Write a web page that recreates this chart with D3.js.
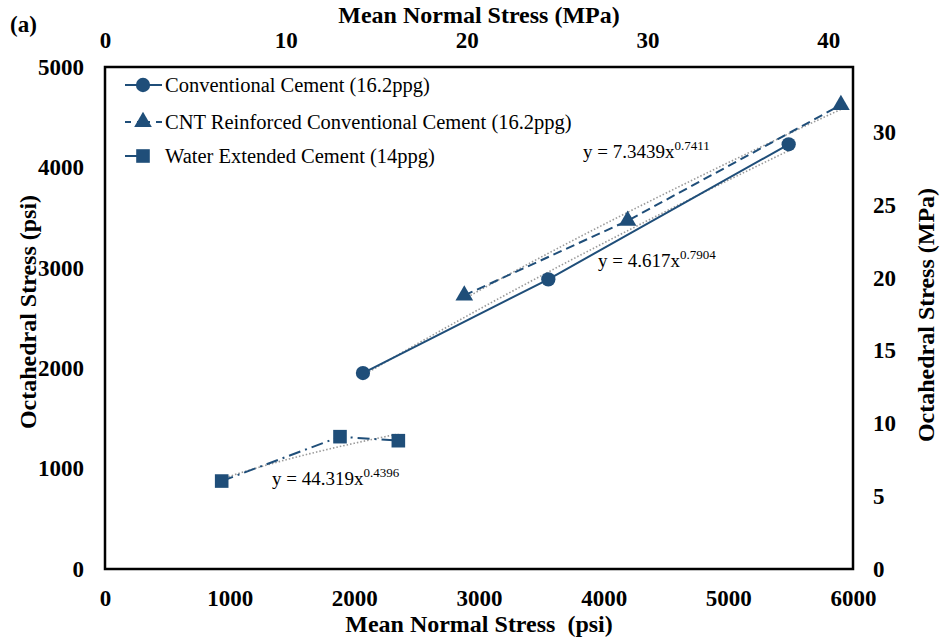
<!DOCTYPE html>
<html>
<head>
<meta charset="utf-8">
<script src="https://cdn.jsdelivr.net/npm/d3@7"></script>
<style>
  body { margin: 0; background: #fff; }
  text { font-family: "Liberation Serif", "Times New Roman", serif; }
</style>
</head>
<body>
<div id="chart"></div>
<script>
var W = 942, H = 641;
var margin = {left: 105, right: 89, top: 67, bottom: 72};

// data (psi)
var seriesNames = ["Conventional Cement (16.2ppg)", "CNT Reinforced Conventional Cement (16.2ppg)", "Water Extended Cement (14ppg)"];
var convX = [2069, 3556, 5484];
var convY = [1952, 2885, 4230];
var cntX = [2882, 4192, 5903];
var cntY = [2725, 3469, 4622];
var waterX = [936, 1885, 2353];
var waterY = [876, 1318, 1278];

// power trendlines y = a*x^b as printed on the chart
var fitA = [4.617, 7.3439, 44.319];
var fitB = [0.7904, 0.7411, 0.4396];
var fitLabels = ["y = 4.617x", "y = 7.3439x", "y = 44.319x"];
var fitExp = ["0.7904", "0.7411", "0.4396"];

var psiTicksX = [0, 1000, 2000, 3000, 4000, 5000, 6000];
var psiTicksY = [0, 1000, 2000, 3000, 4000, 5000];
var mpaTicksX = [0, 10, 20, 30, 40];
var mpaTicksY = [0, 5, 10, 15, 20, 25, 30];
var PSI_PER_MPA = 145.038;

var blue = "#1f4e79";

var svg = d3.select("#chart").append("svg")
  .attr("width", W)
  .attr("height", H);

var x = d3.scaleLinear().domain([0, 6000]).range([margin.left, W - margin.right]);
var y = d3.scaleLinear().domain([0, 5000]).range([H - margin.bottom, margin.top]);
var xM = d3.scaleLinear().domain([0, 6000 / PSI_PER_MPA]).range(x.range());
var yM = d3.scaleLinear().domain([0, 5000 / PSI_PER_MPA]).range(y.range());

function styleAxis(g) {
  g.select(".domain").remove();
  g.selectAll("line").remove();
  g.selectAll("text")
    .style("font-family", "'Liberation Serif', serif")
    .style("font-weight", "bold")
    .style("font-size", "23px")
    .attr("fill", "#000");
}

svg.append("g")
  .attr("transform", "translate(0," + (H - margin.bottom) + ")")
  .call(d3.axisBottom(x).tickValues(psiTicksX).tickSize(0).tickPadding(21).tickFormat(d3.format("d")))
  .call(styleAxis);

svg.append("g")
  .attr("transform", "translate(0," + margin.top + ")")
  .call(d3.axisTop(xM).tickValues(mpaTicksX).tickSize(0).tickPadding(19).tickFormat(d3.format("d")))
  .call(styleAxis);

svg.append("g")
  .attr("transform", "translate(" + margin.left + ",0)")
  .call(d3.axisLeft(y).tickValues(psiTicksY).tickSize(0).tickPadding(21).tickFormat(d3.format("d")))
  .call(styleAxis);

svg.append("g")
  .attr("transform", "translate(" + (W - margin.right) + ",0)")
  .call(d3.axisRight(yM).tickValues(mpaTicksY).tickSize(0).tickPadding(20).tickFormat(d3.format("d")))
  .call(styleAxis);

// plot frame
svg.append("rect")
  .attr("x", margin.left)
  .attr("y", margin.top)
  .attr("width", W - margin.left - margin.right)
  .attr("height", H - margin.top - margin.bottom)
  .attr("fill", "none")
  .attr("stroke", "#000")
  .attr("stroke-width", 2.5);

// axis titles
function title(txt, tx, ty, rot) {
  svg.append("text")
    .attr("transform", "translate(" + tx + "," + ty + ")" + (rot ? " rotate(" + rot + ")" : ""))
    .attr("text-anchor", "middle")
    .attr("dominant-baseline", "central")
    .style("font-weight", "bold")
    .style("font-size", "24px")
    .text(txt);
}
title("Mean Normal Stress (MPa)", 479, 15);
title("Mean Normal Stress \u00a0(psi)", 479, 624);
title("Octahedral Stress (psi)", 28, 312, -90);
title("Octahedral Stress (MPa)", 926, 315, -90);

svg.append("text")
  .attr("x", 10).attr("y", 32)
  .style("font-weight", "bold")
  .style("font-size", "23px")
  .text("(a)");

var series = [
  {xs: convX, ys: convY, dash: null, marker: d3.symbolCircle, size: 160},
  {xs: cntX, ys: cntY, dash: "9,5", marker: d3.symbolTriangle, size: 135},
  {xs: waterX, ys: waterY, dash: "12,5,2,5", marker: d3.symbolSquare, size: 185}
];

var line = d3.line().x(function(d) { return x(d[0]); }).y(function(d) { return y(d[1]); });

// trendlines
series.forEach(function(s, i) {
  var lo = d3.min(s.xs), hi = d3.max(s.xs);
  var pts = d3.range(0, 41).map(function(k) {
    var xv = lo + (hi - lo) * k / 40;
    return [xv, fitA[i] * Math.pow(xv, fitB[i])];
  });
  svg.append("path")
    .attr("d", line(pts))
    .attr("fill", "none")
    .attr("stroke", "#9a9a9a")
    .attr("stroke-width", 1.6)
    .attr("stroke-dasharray", "1.5,2");
});

// series lines + markers
series.forEach(function(s) {
  var pts = s.xs.map(function(v, k) { return [v, s.ys[k]]; });
  svg.append("path")
    .attr("d", line(pts))
    .attr("fill", "none")
    .attr("stroke", blue)
    .attr("stroke-width", 2)
    .attr("stroke-dasharray", s.dash);
  svg.selectAll(null)
    .data(pts)
    .enter().append("path")
    .attr("transform", function(d) { return "translate(" + x(d[0]) + "," + y(d[1]) + ")"; })
    .attr("d", d3.symbol().type(s.marker).size(s.size))
    .attr("fill", blue);
});

// trendline equations
var eqPos = [[598, 267], [583, 158], [272, 485]];
eqPos.forEach(function(p, i) {
  var t = svg.append("text")
    .attr("x", p[0]).attr("y", p[1])
    .style("font-size", "19px");
  t.append("tspan").text(fitLabels[i]);
  t.append("tspan").attr("dy", -8).style("font-size", "13px").text(fitExp[i]);
});

// legend
var legY = [85, 122, 156];
seriesNames.forEach(function(name, i) {
  var s = series[i];
  var g = svg.append("g").attr("transform", "translate(0," + legY[i] + ")");
  g.append("line")
    .attr("x1", 125).attr("x2", 162)
    .attr("stroke", blue).attr("stroke-width", 2)
    .attr("stroke-dasharray", i === 1 ? "6,6,13,6" : (i === 2 ? "14,8,2,20" : null));
  g.append("path")
    .attr("transform", "translate(143,0)")
    .attr("d", d3.symbol().type(s.marker).size(s.size))
    .attr("fill", blue);
  g.append("text")
    .attr("x", 165).attr("y", 0)
    .attr("dominant-baseline", "central")
    .style("font-size", "20.5px")
    .text(name);
});
</script>
</body>
</html>
